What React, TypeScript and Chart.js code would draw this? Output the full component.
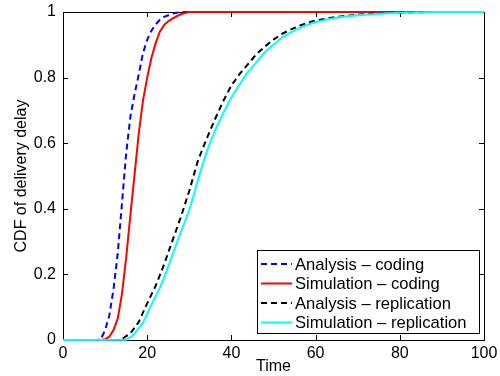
import React, { useEffect, useRef } from "react";
import { Chart, registerables } from "chart.js";

Chart.register(...registerables);

const seriesLabels = [
  "Analysis \u2013 coding",
  "Simulation \u2013 coding",
  "Analysis \u2013 replication",
  "Simulation \u2013 replication",
];

const analysisCodingT = [0, 8, 9, 10, 11, 12, 13, 14, 15, 16, 17, 18, 19, 20, 21, 22, 23, 24, 25, 26, 27, 28, 100];
const analysisCodingY = [0, 0, 0.003, 0.03, 0.075, 0.155, 0.264, 0.415, 0.569, 0.68, 0.75, 0.81, 0.875, 0.915, 0.943, 0.962, 0.976, 0.985, 0.99, 0.995, 0.998, 1, 1];

const simCodingT = [0, 9, 10, 11, 12, 13, 14, 15, 16, 17, 18, 19, 20, 21, 22, 23, 24, 25, 26, 27, 28, 29, 30, 100];
const simCodingY = [0, 0, 0.002, 0.01, 0.03, 0.065, 0.14, 0.25, 0.38, 0.505, 0.63, 0.73, 0.8, 0.86, 0.905, 0.94, 0.96, 0.972, 0.98, 0.987, 0.993, 0.997, 1, 1];

const analysisReplT = [0, 13, 14, 16, 18, 20, 22, 24, 26, 28, 30, 32, 34, 36, 38, 40, 42, 44, 46, 48, 50, 52, 54, 56, 58, 60, 65, 70, 75, 80, 88, 100];
const analysisReplY = [0, 0, 0.003, 0.02, 0.055, 0.112, 0.165, 0.23, 0.303, 0.375, 0.455, 0.545, 0.61, 0.67, 0.727, 0.776, 0.812, 0.842, 0.872, 0.895, 0.916, 0.933, 0.946, 0.957, 0.967, 0.974, 0.985, 0.992, 0.996, 0.998, 1, 1];

const simReplT = [0, 15, 16, 17, 18, 19, 20, 21, 22, 23, 24, 25, 26, 27, 28, 29, 30, 31, 32, 33, 34, 35, 36, 37, 38, 39, 40, 41, 42, 43, 44, 45, 46, 47, 48, 50, 52, 54, 56, 58, 60, 63, 66, 70, 75, 80, 85, 88, 100];
const simReplY = [0, 0.001, 0.008, 0.02, 0.036, 0.052, 0.08, 0.108, 0.133, 0.158, 0.19, 0.224, 0.26, 0.295, 0.33, 0.362, 0.397, 0.44, 0.485, 0.528, 0.568, 0.603, 0.635, 0.663, 0.69, 0.715, 0.74, 0.76, 0.78, 0.8, 0.818, 0.832, 0.848, 0.863, 0.878, 0.9, 0.922, 0.937, 0.95, 0.961, 0.969, 0.978, 0.985, 0.99, 0.995, 0.998, 0.999, 1, 1];

const xTicks = [0, 20, 40, 60, 80, 100];
const yTicks = [0, 0.2, 0.4, 0.6, 0.8, 1];

const colors = ["#0000ff", "#ff0000", "#000000", "#00ffff"];
const dashes = [[6, 4], [], [6, 4], []];

const FONT = "'Liberation Sans', Arial, Helvetica, sans-serif";

function pts(t: number[], y: number[]) {
  return t.map((v, i) => ({ x: v, y: y[i] }));
}

const boxPlugin = {
  id: "matlabBox",
  beforeDatasetsDraw(chart: any) {
    const { ctx, chartArea } = chart;
    const { left, right, top, bottom } = chartArea;
    const xs = chart.scales.x;
    const ys = chart.scales.y;
    ctx.save();
    ctx.strokeStyle = "#000";
    ctx.lineWidth = 1;
    ctx.strokeRect(Math.round(left) + 0.5, Math.round(top) + 0.5, Math.round(right - left), Math.round(bottom - top));
    const tl = 5;
    ctx.beginPath();
    xTicks.forEach((v) => {
      const px = Math.round(xs.getPixelForValue(v)) + 0.5;
      ctx.moveTo(px, bottom);
      ctx.lineTo(px, bottom - tl);
      ctx.moveTo(px, top);
      ctx.lineTo(px, top + tl);
    });
    yTicks.forEach((v) => {
      const py = Math.round(ys.getPixelForValue(v)) + 0.5;
      ctx.moveTo(left, py);
      ctx.lineTo(left + tl, py);
      ctx.moveTo(right, py);
      ctx.lineTo(right - tl, py);
    });
    ctx.stroke();
    ctx.restore();
  },
  afterDraw(chart: any) {
    const { ctx } = chart;
    const bx = 257, by = 250, bw = 222, bh = 83;
    ctx.save();
    ctx.fillStyle = "#fff";
    ctx.fillRect(bx, by, bw, bh);
    ctx.strokeStyle = "#000";
    ctx.lineWidth = 1;
    ctx.strokeRect(bx + 0.5, by + 0.5, bw, bh);
    const rows = [264, 283.5, 303, 322.5];
    ctx.font = "16.6px " + FONT;
    ctx.textBaseline = "middle";
    ctx.textAlign = "left";
    seriesLabels.forEach((lab, i) => {
      const y = rows[i];
      ctx.strokeStyle = colors[i];
      ctx.lineWidth = 2;
      ctx.setLineDash(dashes[i]);
      ctx.beginPath();
      ctx.moveTo(261, y);
      ctx.lineTo(292, y);
      ctx.stroke();
      ctx.setLineDash([]);
      ctx.fillStyle = "#000";
      ctx.fillText(lab, 295, y + 1);
    });
    ctx.restore();
  },
};

export default function App() {
  const ref = useRef<HTMLCanvasElement | null>(null);
  useEffect(() => {
    document.body.style.margin = "0";
    const canvas = ref.current!;
    const series = [
      pts(analysisCodingT, analysisCodingY),
      pts(simCodingT, simCodingY),
      pts(analysisReplT, analysisReplY),
      pts(simReplT, simReplY),
    ];
    const chart = new Chart(canvas, {
      type: "line",
      data: {
        datasets: series.map((d, i) => ({
          label: seriesLabels[i],
          data: d,
          borderColor: colors[i],
          backgroundColor: colors[i],
          borderWidth: 2,
          borderDash: dashes[i],
          pointRadius: 0,
          tension: 0,
          fill: false,
          clip: 4,
          order: 3 - i,
        })),
      },
      options: {
        animation: false,
        responsive: false,
        maintainAspectRatio: false,
        events: [],
        layout: { padding: { top: 12, right: 16, left: 0, bottom: 0 } },
        plugins: { legend: { display: false }, tooltip: { enabled: false } },
        scales: {
          x: {
            type: "linear",
            min: 0,
            max: 100,
            afterBuildTicks: (s: any) => {
              s.ticks = xTicks.map((v) => ({ value: v }));
            },
            afterFit: (s: any) => {
              s.height = 36;
              s.paddingLeft = 0;
              s.paddingRight = 0;
            },
            grid: { display: false, drawTicks: false },
            border: { display: false },
            ticks: {
              color: "#000",
              padding: 4,
              maxRotation: 0,
              autoSkip: false,
              font: { family: FONT, size: 16 },
            },
            title: {
              display: true,
              text: "Time",
              color: "#000",
              font: { family: FONT, size: 16 },
              padding: { top: 0, bottom: 0 },
            },
          },
          y: {
            type: "linear",
            min: 0,
            max: 1,
            afterBuildTicks: (s: any) => {
              s.ticks = yTicks.map((v) => ({ value: v }));
            },
            afterFit: (s: any) => {
              s.width = 63;
              s.paddingTop = 0;
              s.paddingBottom = 0;
            },
            grid: { display: false, drawTicks: false },
            border: { display: false },
            ticks: {
              color: "#000",
              padding: 7,
              autoSkip: false,
              font: { family: FONT, size: 16 },
              callback: (v: any) => String(Math.round(Number(v) * 10) / 10),
            },
            title: {
              display: true,
              text: "CDF of delivery delay",
              color: "#000",
              font: { family: FONT, size: 16 },
              padding: { top: 12, bottom: 0 },
            },
          },
        },
      },
      plugins: [boxPlugin],
    } as any);
    return () => chart.destroy();
  }, []);
  return (
    <div style={{ position: "absolute", left: 0, top: 0, width: 500, height: 376, background: "#fff" }}>
      <canvas ref={ref} width={500} height={376} style={{ width: 500, height: 376, display: "block" }} />
    </div>
  );
}
